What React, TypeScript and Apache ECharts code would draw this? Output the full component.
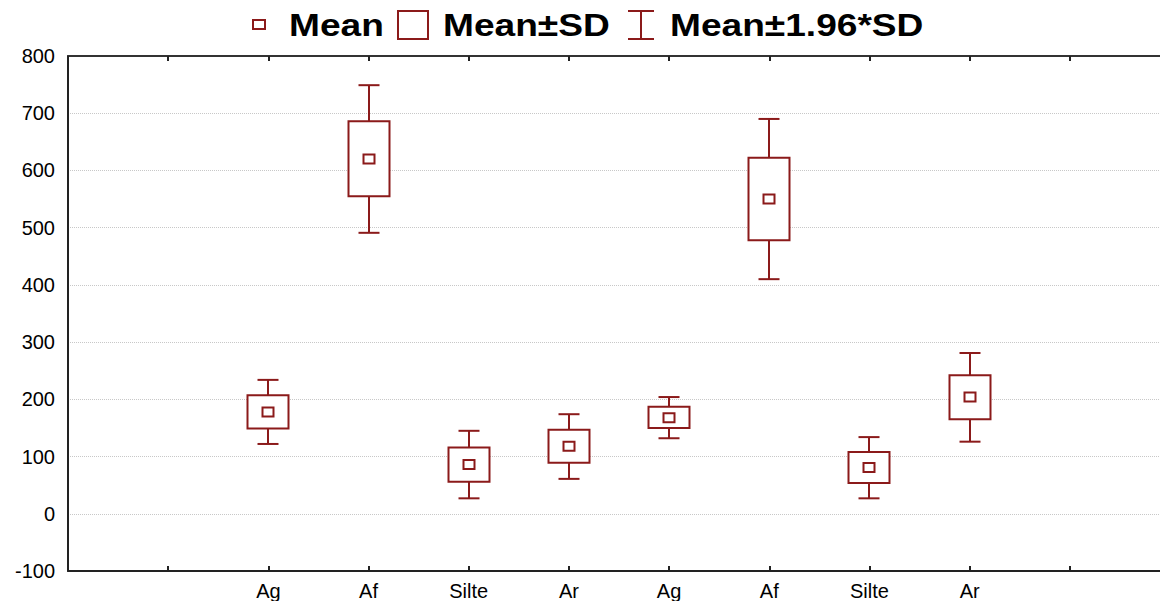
import React, { useEffect, useRef } from "react";
import * as echarts from "echarts";

const slotLabels = ["", "", "Ag", "Af", "Silte", "Ar", "Ag", "Af", "Silte", "Ar", "", ""];
const positions = [2, 3, 4, 5, 6, 7, 8, 9];
const means = [178, 620, 86, 118, 168, 550, 81, 204];
const sdLow = [149, 555, 56, 89, 150, 478, 54, 165];
const sdHigh = [207, 686, 116, 147, 187, 622, 108, 242];
const ciLow = [122, 491, 27, 61, 132, 410, 27, 126];
const ciHigh = [234, 749, 145, 174, 204, 690, 134, 281];
const yTicks = { min: -100, max: 800, interval: 100 };
const xRange = { min: 0, max: 10.9, interval: 1 };
const legendNames = ["Mean", "Mean±SD", "Mean±1.96*SD"];

const RED = "#8B1A1A";

export default function App() {
  const ref = useRef<HTMLDivElement>(null);
  useEffect(() => {
    if (!ref.current) return;
    const chart = echarts.init(ref.current, undefined, { renderer: "svg" });
    const data = positions.map((p, i) => [p, ciLow[i], sdLow[i], means[i], sdHigh[i], ciHigh[i]]);
    const tickValues = slotLabels.map((_, i) => i).filter((i) => i <= xRange.max);
    const legendFont = {
      fontSize: 32,
      fontWeight: "bold",
      fontFamily: "Liberation Sans, Arial, sans-serif",
      fill: "#000",
      verticalAlign: "middle",
    };
    const xCommon = {
      type: "value",
      min: xRange.min,
      max: xRange.max,
      interval: xRange.interval,
      splitLine: { show: false },
      axisTick: {
        show: true,
        inside: true,
        length: 5,
        customValues: tickValues,
        lineStyle: { color: "#222", width: 2 },
      },
    };
    chart.setOption({
      animation: false,
      backgroundColor: "#fff",
      grid: { left: 68, right: 0, top: 56, bottom: 30, containLabel: false },
      xAxis: [
        {
          ...xCommon,
          position: "bottom",
          axisLine: { show: true, onZero: false, lineStyle: { color: "#222", width: 2 } },
          axisLabel: {
            show: true,
            margin: 10,
            fontSize: 20,
            fontFamily: "Liberation Sans, Arial, sans-serif",
            color: "#000",
            customValues: tickValues,
            formatter: (v: number) => (Math.abs(v - Math.round(v)) < 1e-6 ? slotLabels[Math.round(v)] ?? "" : ""),
          },
        },
        {
          ...xCommon,
          position: "top",
          axisLine: { show: true, onZero: false, lineStyle: { color: "#333", width: 2 } },
          axisLabel: { show: false },
        },
      ],
      yAxis: {
        type: "value",
        min: yTicks.min,
        max: yTicks.max,
        interval: yTicks.interval,
        axisLine: { show: true, onZero: false, lineStyle: { color: "#222", width: 2 } },
        axisTick: { show: false },
        axisLabel: {
          margin: 13,
          fontSize: 20,
          fontFamily: "Liberation Sans, Arial, sans-serif",
          color: "#000",
        },
        splitLine: { show: true, lineStyle: { color: "#c8c8c8", type: "dotted", width: 1 } },
      },
      graphic: [
        { type: "rect", shape: { x: 253, y: 20, width: 12, height: 9 }, style: { fill: "#fff", stroke: RED, lineWidth: 2 } },
        { type: "text", x: 289, y: 25, scaleX: 1.16, style: { ...legendFont, text: legendNames[0] } },
        { type: "rect", shape: { x: 398, y: 11, width: 30, height: 28 }, style: { fill: "#fff", stroke: RED, lineWidth: 2 } },
        { type: "text", x: 443, y: 25, scaleX: 1.16, style: { ...legendFont, text: legendNames[1] } },
        { type: "line", shape: { x1: 641, y1: 11, x2: 641, y2: 39 }, style: { stroke: RED, lineWidth: 2 } },
        { type: "line", shape: { x1: 628, y1: 11, x2: 654, y2: 11 }, style: { stroke: RED, lineWidth: 2 } },
        { type: "line", shape: { x1: 628, y1: 39, x2: 654, y2: 39 }, style: { stroke: RED, lineWidth: 2 } },
        { type: "text", x: 670, y: 25, scaleX: 1.16, style: { ...legendFont, text: legendNames[2] } },
      ],
      series: [
        {
          type: "custom",
          xAxisIndex: 0,
          yAxisIndex: 0,
          data,
          encode: { x: 0, y: [1, 2, 3, 4, 5] },
          renderItem: (params: any, api: any) => {
            const x = api.value(0);
            const pCiLo = api.coord([x, api.value(1)]);
            const pSdLo = api.coord([x, api.value(2)]);
            const pMean = api.coord([x, api.value(3)]);
            const pSdHi = api.coord([x, api.value(4)]);
            const pCiHi = api.coord([x, api.value(5)]);
            const cx = Math.round(pMean[0]);
            const boxW = 41;
            const capW = 21;
            const mW = 11;
            const mH = 9;
            const lineStyle = { stroke: RED, lineWidth: 2, fill: "none" };
            return {
              type: "group",
              children: [
                { type: "line", shape: { x1: cx, y1: pCiLo[1], x2: cx, y2: pCiHi[1] }, style: lineStyle },
                { type: "line", shape: { x1: cx - capW / 2, y1: pCiLo[1], x2: cx + capW / 2, y2: pCiLo[1] }, style: lineStyle },
                { type: "line", shape: { x1: cx - capW / 2, y1: pCiHi[1], x2: cx + capW / 2, y2: pCiHi[1] }, style: lineStyle },
                {
                  type: "rect",
                  shape: { x: cx - boxW / 2, y: pSdHi[1], width: boxW, height: pSdLo[1] - pSdHi[1] },
                  style: { fill: "#fff", stroke: RED, lineWidth: 2 },
                },
                {
                  type: "rect",
                  shape: { x: cx - mW / 2, y: pMean[1] - mH / 2, width: mW, height: mH },
                  style: { fill: "#fff", stroke: RED, lineWidth: 2 },
                },
              ],
            };
          },
        },
      ],
    });
    return () => chart.dispose();
  }, []);
  return <div ref={ref} style={{ position: "absolute", left: 0, top: 0, width: 1160, height: 601 }} />;
}
